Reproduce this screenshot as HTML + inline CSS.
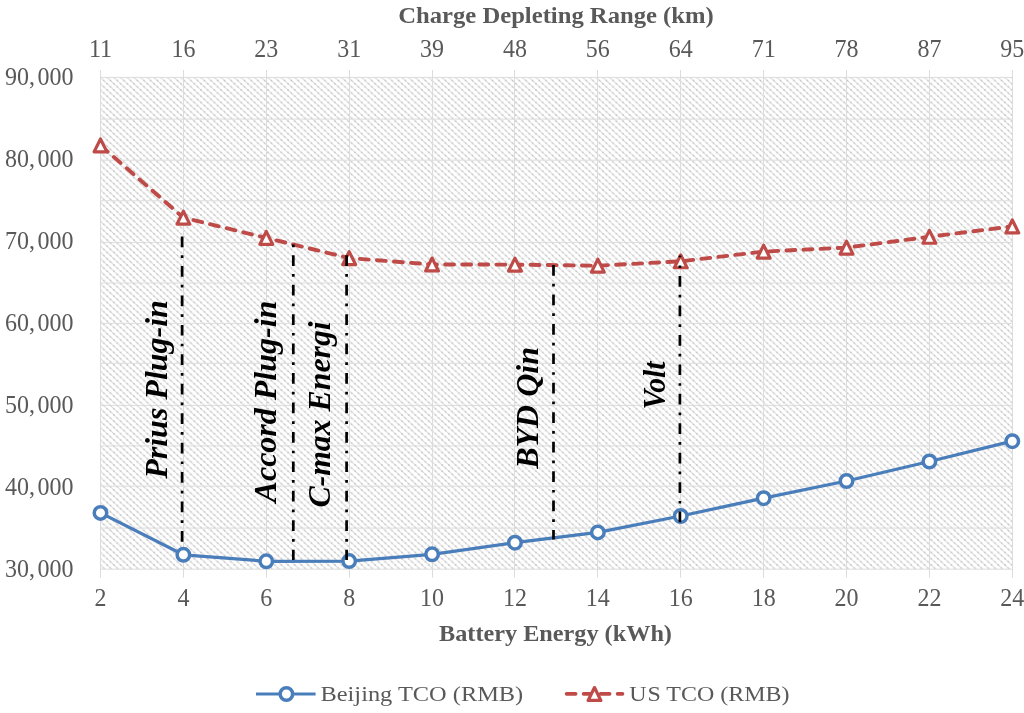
<!DOCTYPE html>
<html><head><meta charset="utf-8"><style>
html,body{margin:0;padding:0;background:#fff;width:1024px;height:713px;overflow:hidden}
svg{display:block;will-change:transform}
text{font-family:"Liberation Serif",serif}
</style></head><body>
<svg width="1024" height="713" viewBox="0 0 1024 713">
<defs>
<pattern id="hatch" patternUnits="userSpaceOnUse" width="6.7" height="6.25" patternTransform="translate(100.5 77.5)">
<path d="M-3.35,-3.125 L10.05,9.375 M-3.35,3.125 L3.35,9.375 M3.35,-3.125 L10.05,3.125" stroke="#d8d8d8" stroke-width="1.0" fill="none"/>
<g fill="#bcbcbc">
<rect x="-0.7" y="-0.7" width="1.4" height="1.4"/>
<rect x="6.0" y="-0.7" width="1.4" height="1.4"/>
<rect x="-0.7" y="5.55" width="1.4" height="1.4"/>
<rect x="6.0" y="5.55" width="1.4" height="1.4"/>
<rect x="2.6500000000000004" y="2.425" width="1.4" height="1.4"/>
</g>
</pattern>
</defs>

<rect x="100.5" y="77.5" width="911.80" height="491.70" fill="url(#hatch)"/>
<path d="M100.0,77.4H1012.8 M100.0,119.1H1012.8 M100.0,160.2H1012.8 M100.0,200.8H1012.8 M100.0,242.4H1012.8 M100.0,283.0H1012.8 M100.0,323.4H1012.8 M100.0,363.3H1012.8 M100.0,405.4H1012.8 M100.0,445.9H1012.8 M100.0,486.2H1012.8 M100.0,528.1H1012.8 M100.0,569.2H1012.8 M100.5,70.0V577.7 M183.5,70.0V577.7 M266.5,70.0V577.7 M349.5,70.0V577.7 M432.5,70.0V577.7 M514.5,70.0V577.7 M597.5,70.0V577.7 M680.5,70.0V577.7 M763.5,70.0V577.7 M846.5,70.0V577.7 M929.5,70.0V577.7 M1012.5,70.0V577.7" stroke="#dcdcdc" stroke-width="1" fill="none"/>
<g fill="#595959" font-size="24" text-anchor="end">
<text transform="translate(73.5 85.00) scale(1 1.06)">90,<tspan dx="2.5">000</tspan></text>
<text transform="translate(73.5 166.97) scale(1 1.06)">80,<tspan dx="2.5">000</tspan></text>
<text transform="translate(73.5 248.93) scale(1 1.06)">70,<tspan dx="2.5">000</tspan></text>
<text transform="translate(73.5 330.90) scale(1 1.06)">60,<tspan dx="2.5">000</tspan></text>
<text transform="translate(73.5 412.87) scale(1 1.06)">50,<tspan dx="2.5">000</tspan></text>
<text transform="translate(73.5 494.83) scale(1 1.06)">40,<tspan dx="2.5">000</tspan></text>
<text transform="translate(73.5 576.80) scale(1 1.06)">30,<tspan dx="2.5">000</tspan></text>
</g>
<g fill="#595959" font-size="24" text-anchor="middle">
<text transform="translate(100.50 605.9) scale(1 1.06)">2</text>
<text transform="translate(183.39 605.9) scale(1 1.06)">4</text>
<text transform="translate(266.28 605.9) scale(1 1.06)">6</text>
<text transform="translate(349.17 605.9) scale(1 1.06)">8</text>
<text transform="translate(432.06 605.9) scale(1 1.06)">10</text>
<text transform="translate(514.95 605.9) scale(1 1.06)">12</text>
<text transform="translate(597.85 605.9) scale(1 1.06)">14</text>
<text transform="translate(680.74 605.9) scale(1 1.06)">16</text>
<text transform="translate(763.63 605.9) scale(1 1.06)">18</text>
<text transform="translate(846.52 605.9) scale(1 1.06)">20</text>
<text transform="translate(929.41 605.9) scale(1 1.06)">22</text>
<text transform="translate(1012.30 605.9) scale(1 1.06)">24</text>
<text transform="translate(100.50 57.0) scale(1 1.06)">11</text>
<text transform="translate(183.39 57.0) scale(1 1.06)">16</text>
<text transform="translate(266.28 57.0) scale(1 1.06)">23</text>
<text transform="translate(349.17 57.0) scale(1 1.06)">31</text>
<text transform="translate(432.06 57.0) scale(1 1.06)">39</text>
<text transform="translate(514.95 57.0) scale(1 1.06)">48</text>
<text transform="translate(597.85 57.0) scale(1 1.06)">56</text>
<text transform="translate(680.74 57.0) scale(1 1.06)">64</text>
<text transform="translate(763.63 57.0) scale(1 1.06)">71</text>
<text transform="translate(846.52 57.0) scale(1 1.06)">78</text>
<text transform="translate(929.41 57.0) scale(1 1.06)">87</text>
<text transform="translate(1012.30 57.0) scale(1 1.06)">95</text>
</g>
<text transform="translate(556 22.5) scale(1.01 0.916)" fill="#595959" font-size="24.4" font-weight="bold" text-anchor="middle">Charge Depleting Range (km)</text>
<text transform="translate(555.5 640.5) scale(1.01 1)" fill="#595959" font-size="24" font-weight="bold" text-anchor="middle">Battery Energy (kWh)</text>
<polyline points="100.50,512.9 183.39,554.8 266.28,561.3 349.17,561.1 432.06,554.3 514.95,542.7 597.85,532.4 680.74,516.0 763.63,498.2 846.52,481.0 929.41,461.5 1012.30,441.2" fill="none" stroke="#4a7ebb" stroke-width="3.25" stroke-linejoin="round"/>
<polyline points="100.50,145.4 183.39,217.65 266.28,237.9 349.17,258.1 432.06,264.5 514.95,264.6 597.85,265.7 680.74,261.3 763.63,251.6 846.52,247.6 929.41,236.8 1012.30,226.4" fill="none" stroke="#be4b48" stroke-width="3.9" stroke-linejoin="round" stroke-linecap="round" stroke-dasharray="8.9 8.2" stroke-dashoffset="-0.6"/>
<circle cx="100.50" cy="512.9" r="6.25" fill="#fff" stroke="#4a7ebb" stroke-width="3.5"/>
<circle cx="183.39" cy="554.8" r="6.25" fill="#fff" stroke="#4a7ebb" stroke-width="3.5"/>
<circle cx="266.28" cy="561.3" r="6.25" fill="#fff" stroke="#4a7ebb" stroke-width="3.5"/>
<circle cx="349.17" cy="561.1" r="6.25" fill="#fff" stroke="#4a7ebb" stroke-width="3.5"/>
<circle cx="432.06" cy="554.3" r="6.25" fill="#fff" stroke="#4a7ebb" stroke-width="3.5"/>
<circle cx="514.95" cy="542.7" r="6.25" fill="#fff" stroke="#4a7ebb" stroke-width="3.5"/>
<circle cx="597.85" cy="532.4" r="6.25" fill="#fff" stroke="#4a7ebb" stroke-width="3.5"/>
<circle cx="680.74" cy="516.0" r="6.25" fill="#fff" stroke="#4a7ebb" stroke-width="3.5"/>
<circle cx="763.63" cy="498.2" r="6.25" fill="#fff" stroke="#4a7ebb" stroke-width="3.5"/>
<circle cx="846.52" cy="481.0" r="6.25" fill="#fff" stroke="#4a7ebb" stroke-width="3.5"/>
<circle cx="929.41" cy="461.5" r="6.25" fill="#fff" stroke="#4a7ebb" stroke-width="3.5"/>
<circle cx="1012.30" cy="441.2" r="6.25" fill="#fff" stroke="#4a7ebb" stroke-width="3.5"/>
<path d="M100.50,138.95L106.90,151.85L94.10,151.85Z" fill="#fff" stroke="#be4b48" stroke-width="3.2" stroke-linejoin="round"/>
<path d="M183.39,211.20L189.79,224.10L176.99,224.10Z" fill="#fff" stroke="#be4b48" stroke-width="3.2" stroke-linejoin="round"/>
<path d="M266.28,231.45L272.68,244.35L259.88,244.35Z" fill="#fff" stroke="#be4b48" stroke-width="3.2" stroke-linejoin="round"/>
<path d="M349.17,251.65L355.57,264.55L342.77,264.55Z" fill="#fff" stroke="#be4b48" stroke-width="3.2" stroke-linejoin="round"/>
<path d="M432.06,258.05L438.46,270.95L425.66,270.95Z" fill="#fff" stroke="#be4b48" stroke-width="3.2" stroke-linejoin="round"/>
<path d="M514.95,258.15L521.35,271.05L508.55,271.05Z" fill="#fff" stroke="#be4b48" stroke-width="3.2" stroke-linejoin="round"/>
<path d="M597.85,259.25L604.25,272.15L591.45,272.15Z" fill="#fff" stroke="#be4b48" stroke-width="3.2" stroke-linejoin="round"/>
<path d="M680.74,254.85L687.14,267.75L674.34,267.75Z" fill="#fff" stroke="#be4b48" stroke-width="3.2" stroke-linejoin="round"/>
<path d="M763.63,245.15L770.03,258.05L757.23,258.05Z" fill="#fff" stroke="#be4b48" stroke-width="3.2" stroke-linejoin="round"/>
<path d="M846.52,241.15L852.92,254.05L840.12,254.05Z" fill="#fff" stroke="#be4b48" stroke-width="3.2" stroke-linejoin="round"/>
<path d="M929.41,230.35L935.81,243.25L923.01,243.25Z" fill="#fff" stroke="#be4b48" stroke-width="3.2" stroke-linejoin="round"/>
<path d="M1012.30,219.95L1018.70,232.85L1005.90,232.85Z" fill="#fff" stroke="#be4b48" stroke-width="3.2" stroke-linejoin="round"/>
<path d="M182.10,236.3V548" stroke="#000" stroke-width="2.7" fill="none" stroke-dasharray="10.7 8.03 2.68 8.03" stroke-dashoffset="29.14"/>
<path d="M293.30,244.3V560" stroke="#000" stroke-width="2.7" fill="none" stroke-dasharray="10.7 8.03 2.68 8.03" stroke-dashoffset="18.44"/>
<path d="M346.60,250V560" stroke="#000" stroke-width="2.7" fill="none" stroke-dasharray="10.7 8.03 2.68 8.03" stroke-dashoffset="24.14"/>
<path d="M553.50,264.5V539.5" stroke="#000" stroke-width="2.7" fill="none" stroke-dasharray="10.7 8.03 2.68 8.03" stroke-dashoffset="28.84"/>
<path d="M679.90,255.5V522.3" stroke="#000" stroke-width="2.7" fill="none" stroke-dasharray="10.7 8.03 2.68 8.03" stroke-dashoffset="8.84"/>
<g fill="#000" font-size="32" font-weight="bold" font-style="italic">
<text transform="translate(167.00 478.80) rotate(-90) scale(1.0 1)">Prius Plug-in</text>
<text transform="translate(276.20 502.40) rotate(-90) scale(1.0 1)">Accord Plug-in</text>
<text transform="translate(329.80 507.60) rotate(-90) scale(0.993 1)">C-max Energi</text>
<text transform="translate(538.20 468.80) rotate(-90) scale(1.0 1)">BYD Qin</text>
<text transform="translate(664.70 409.40) rotate(-90) scale(0.93 1)">Volt</text>
</g>
<path d="M256,694H315.6" stroke="#4a7ebb" stroke-width="3"/>
<circle cx="286.4" cy="694" r="6.25" fill="#fff" stroke="#4a7ebb" stroke-width="3.5"/>
<text transform="translate(320.5 700.9) scale(1 0.89)" fill="#595959" font-size="24.4">Beijing TCO (RMB)</text>
<path d="M566.6,693.8H622.5" stroke="#be4b48" stroke-width="3.7" stroke-linecap="round" stroke-dasharray="9 8"/>
<path d="M594.50,687.55L600.90,700.45L588.10,700.45Z" fill="#fff" stroke="#be4b48" stroke-width="3.2" stroke-linejoin="round"/>
<text transform="translate(629.3 700.9) scale(1 0.89)" fill="#595959" font-size="24">U<tspan dx="0.8">S</tspan> TCO (RMB)</text>
</svg></body></html>
